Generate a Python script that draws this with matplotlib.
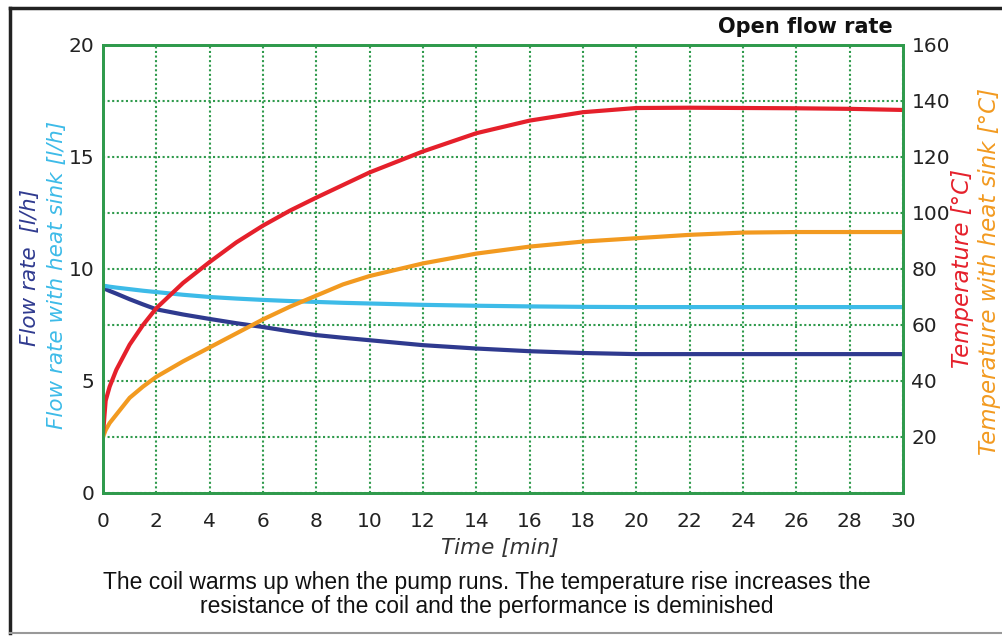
import matplotlib
matplotlib.use("Agg")
import matplotlib.pyplot as plt
from matplotlib.lines import Line2D

# data
time_min = [0, 0.1, 0.25, 0.5, 1, 1.5, 2, 3, 4, 5, 6, 7, 8, 9, 10,
            12, 14, 16, 18, 20, 22, 24, 26, 28, 30]
temp = [21, 33, 38, 44, 53, 60, 66, 75, 82.5, 89.5, 95.5, 100.8, 105.5, 110, 114.5,
        122, 128.5, 133, 136, 137.5, 137.6, 137.5, 137.4, 137.2, 136.8]
temp_sink = [20, 22.5, 25, 28, 34, 38, 41.5, 47, 52, 57, 62, 66.5, 70.5, 74.5, 77.5,
             82, 85.5, 88, 89.8, 91, 92.2, 93, 93.2, 93.2, 93.2]
flow = [9.15, 9.1, 9.02, 8.9, 8.65, 8.42, 8.2, 7.97, 7.77, 7.58, 7.41, 7.22, 7.05, 6.93, 6.82,
        6.6, 6.45, 6.33, 6.25, 6.2, 6.2, 6.2, 6.2, 6.2, 6.2]
flow_sink = [9.25, 9.24, 9.21, 9.17, 9.1, 9.03, 8.97, 8.85, 8.75, 8.68, 8.62, 8.57, 8.53, 8.49, 8.46,
             8.4, 8.36, 8.33, 8.31, 8.3, 8.3, 8.3, 8.3, 8.3, 8.3]

x_ticks = list(range(0, 31, 2))
flow_ticks = [0, 5, 10, 15, 20]
temp_ticks = [20, 40, 60, 80, 100, 120, 140, 160]

caption = ["The coil warms up when the pump runs. The temperature rise increases the",
           "resistance of the coil and the performance is deminished"]

GREEN = "#2f9a4c"
RED = "#e5202b"
ORANGE = "#f29a20"
LBLUE = "#3dbbe8"
DBLUE = "#2f3a8f"

W, H = 1003, 639
fig = plt.figure(figsize=(W / 100, H / 100), dpi=100)
ax = fig.add_axes([103 / W, 1 - 493 / H, 800 / W, 448 / H])
ax2 = ax.twinx()

ax.plot(time_min, flow, color=DBLUE, lw=3, solid_capstyle="butt")
ax.plot(time_min, flow_sink, color=LBLUE, lw=3, solid_capstyle="butt")
ax2.plot(time_min, temp_sink, color=ORANGE, lw=3, solid_capstyle="butt")
ax2.plot(time_min, temp, color=RED, lw=3, solid_capstyle="butt")

ax.set_xlim(0, 30)
ax.set_ylim(0, 20)
ax2.set_ylim(0, 160)
ax.set_xticks(x_ticks)
ax.set_yticks(flow_ticks)
ax.set_yticks([2.5, 7.5, 12.5, 17.5], minor=True)
ax2.set_yticks(temp_ticks)

ax.grid(True, which="both", color=GREEN, ls=(0, (1, 1.2)), lw=1.5)
ax.set_axisbelow(True)
for a in (ax, ax2):
    for s in a.spines.values():
        s.set_color(GREEN)
        s.set_linewidth(2)
    a.tick_params(which="both", length=0, labelsize=14.5, colors="#222222")
ax.tick_params(axis="y", pad=6)
ax.tick_params(axis="x", pad=14)
ax2.tick_params(axis="y", pad=6)

fig.text(500 / W, 1 - 548 / H, "Time [min]", fontsize=15.5, style="italic",
         color="#333333", ha="center", va="center")

# stacked axis titles
fig.text(30 / W, 1 - 267 / H, "Flow rate  [l/h]", rotation=90, color=DBLUE,
         fontsize=15.5, style="italic", ha="center", va="center")
fig.text(57 / W, 1 - 275 / H, "Flow rate with heat sink [l/h]", rotation=90, color=LBLUE,
         fontsize=15.5, style="italic", ha="center", va="center")
fig.text(963 / W, 1 - 268 / H, "Temperature [°C]", rotation=90, color=RED,
         fontsize=16.5, style="italic", ha="center", va="center")
fig.text(990 / W, 1 - 272 / H, "Temperature with heat sink [°C]", rotation=90, color=ORANGE,
         fontsize=16.5, style="italic", ha="center", va="center")

fig.text(893 / W, 1 - 27 / H, "Open flow rate", fontsize=15, fontweight="bold",
         ha="right", va="center", color="#111111")

for i, line in enumerate(caption):
    fig.text(487 / W, 1 - (583 + 24 * i) / H, line, fontsize=16.5, ha="center",
             va="center", family="Liberation Sans", color="#111111")

# outer frame of the picture
fig.add_artist(Line2D([10 / W, 10 / W], [0.01, 1 - 8 / H], color="#222222", lw=2.5))
fig.add_artist(Line2D([10 / W, 1], [1 - 8 / H, 1 - 8 / H], color="#222222", lw=2.5))
fig.add_artist(Line2D([10 / W, 1], [1 - 633 / H, 1 - 633 / H], color="#999999", lw=1.5))

fig.savefig("out.png", dpi=100, facecolor="white")
